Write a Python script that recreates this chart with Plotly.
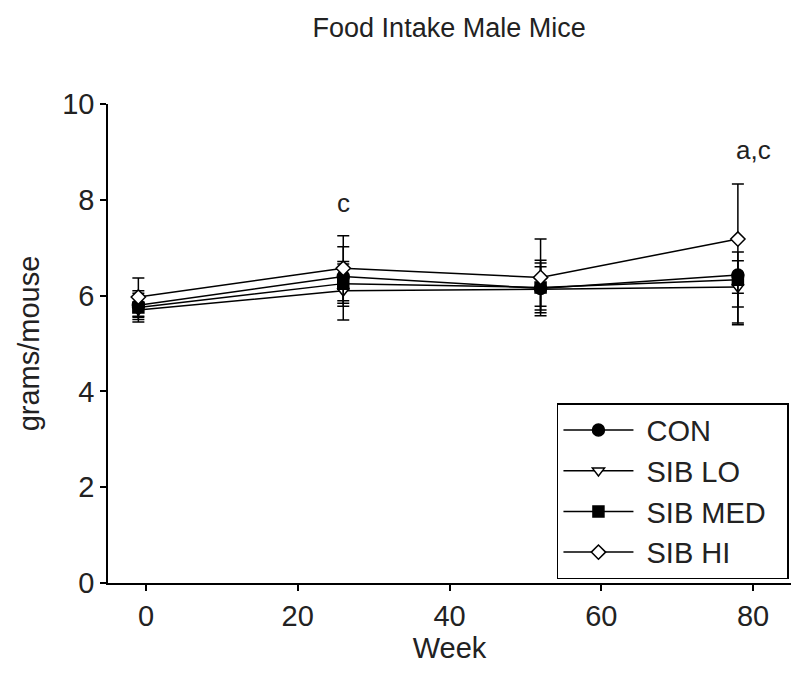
import plotly.graph_objects as go

# weeks on study (first point sits just left of 0 in the original)
weeks = [-1, 26, 52, 78]

con = [5.80, 6.40, 6.15, 6.43]
sib_lo = [5.70, 6.10, 6.13, 6.18]
sib_med = [5.75, 6.25, 6.17, 6.33]
sib_hi = [5.97, 6.57, 6.38, 7.18]

# error bars (upper / lower)
con_up = [0.30, 0.62, 0.59, 0.48]
con_dn = [0.30, 0.62, 0.45, 1.04]
lo_up = [0.15, 0.61, 0.55, 0.25]
lo_dn = [0.15, 0.61, 0.49, 0.75]
med_up = [0.30, 0.41, 0.43, 0.40]
med_dn = [0.30, 0.41, 0.39, 0.57]
hi_up = [0.40, 0.68, 0.80, 1.15]
hi_dn = [0.40, 0.68, 0.80, 1.13]

series = [
    ("CON", con, con_up, con_dn, "circle", "black", 12),
    ("SIB LO", sib_lo, lo_up, lo_dn, "triangle-down", "white", 10.5),
    ("SIB MED", sib_med, med_up, med_dn, "square", "black", 11),
    ("SIB HI", sib_hi, hi_up, hi_dn, "diamond", "white", 11),
]

# significance letters
note_x = [26, 80]
note_y = [7.93, 9.04]
note_text = ["c", "a,c"]

fnt = "Liberation Sans, Arial, sans-serif"
nb = "\u00a0"

fig = go.Figure()
for name, vals, up, dn, sym, fill, sz in series:
    fig.add_trace(go.Scatter(
        x=weeks, y=vals, name=nb + name + nb + nb, mode="lines+markers",
        line=dict(color="black", width=1.5),
        marker=dict(symbol=sym, size=sz, color=fill,
                    line=dict(color="black", width=1.5)),
        error_y=dict(type="data", array=up, arrayminus=dn, symmetric=False,
                     color="black", thickness=1.5, width=6),
    ))

for x, y, t in zip(note_x, note_y, note_text):
    fig.add_annotation(x=x, y=y, text=t, showarrow=False,
                       font=dict(size=26, color="#222"))

# page body adds an 8px margin, so the figure is 8px smaller each way
fig.update_layout(
    width=792, height=683,
    margin=dict(l=100, r=9, t=96, b=108),
    paper_bgcolor="white", plot_bgcolor="white",
    font=dict(family=fnt, color="#222", size=29),
    title=dict(text="Food Intake Male Mice", x=0.557, xanchor="center",
               y=0.972, yanchor="middle", font=dict(size=27)),
    legend=dict(x=0.997, y=0.008, xanchor="right", yanchor="bottom",
                bgcolor="white", bordercolor="black", borderwidth=1.5,
                font=dict(size=29), itemwidth=70),
)

fig.update_xaxes(range=[-5, 85], tickvals=[0, 20, 40, 60, 80],
                 showline=True, linecolor="black", linewidth=1.5,
                 ticks="outside", ticklen=6, tickwidth=1.5, tickcolor="black",
                 showgrid=False, zeroline=False, tickfont=dict(size=29),
                 automargin=False,
                 title=dict(text="Week", font=dict(size=29), standoff=0))
fig.update_yaxes(range=[0, 10], tickvals=[0, 2, 4, 6, 8, 10],
                 showline=True, linecolor="black", linewidth=1.5,
                 ticks="outside", ticklen=6, tickwidth=1.5, tickcolor="black",
                 showgrid=False, zeroline=False, tickfont=dict(size=29),
                 automargin=False,
                 title=dict(text="grams/mouse", font=dict(size=29), standoff=14))

fig.write_html("out.html")
